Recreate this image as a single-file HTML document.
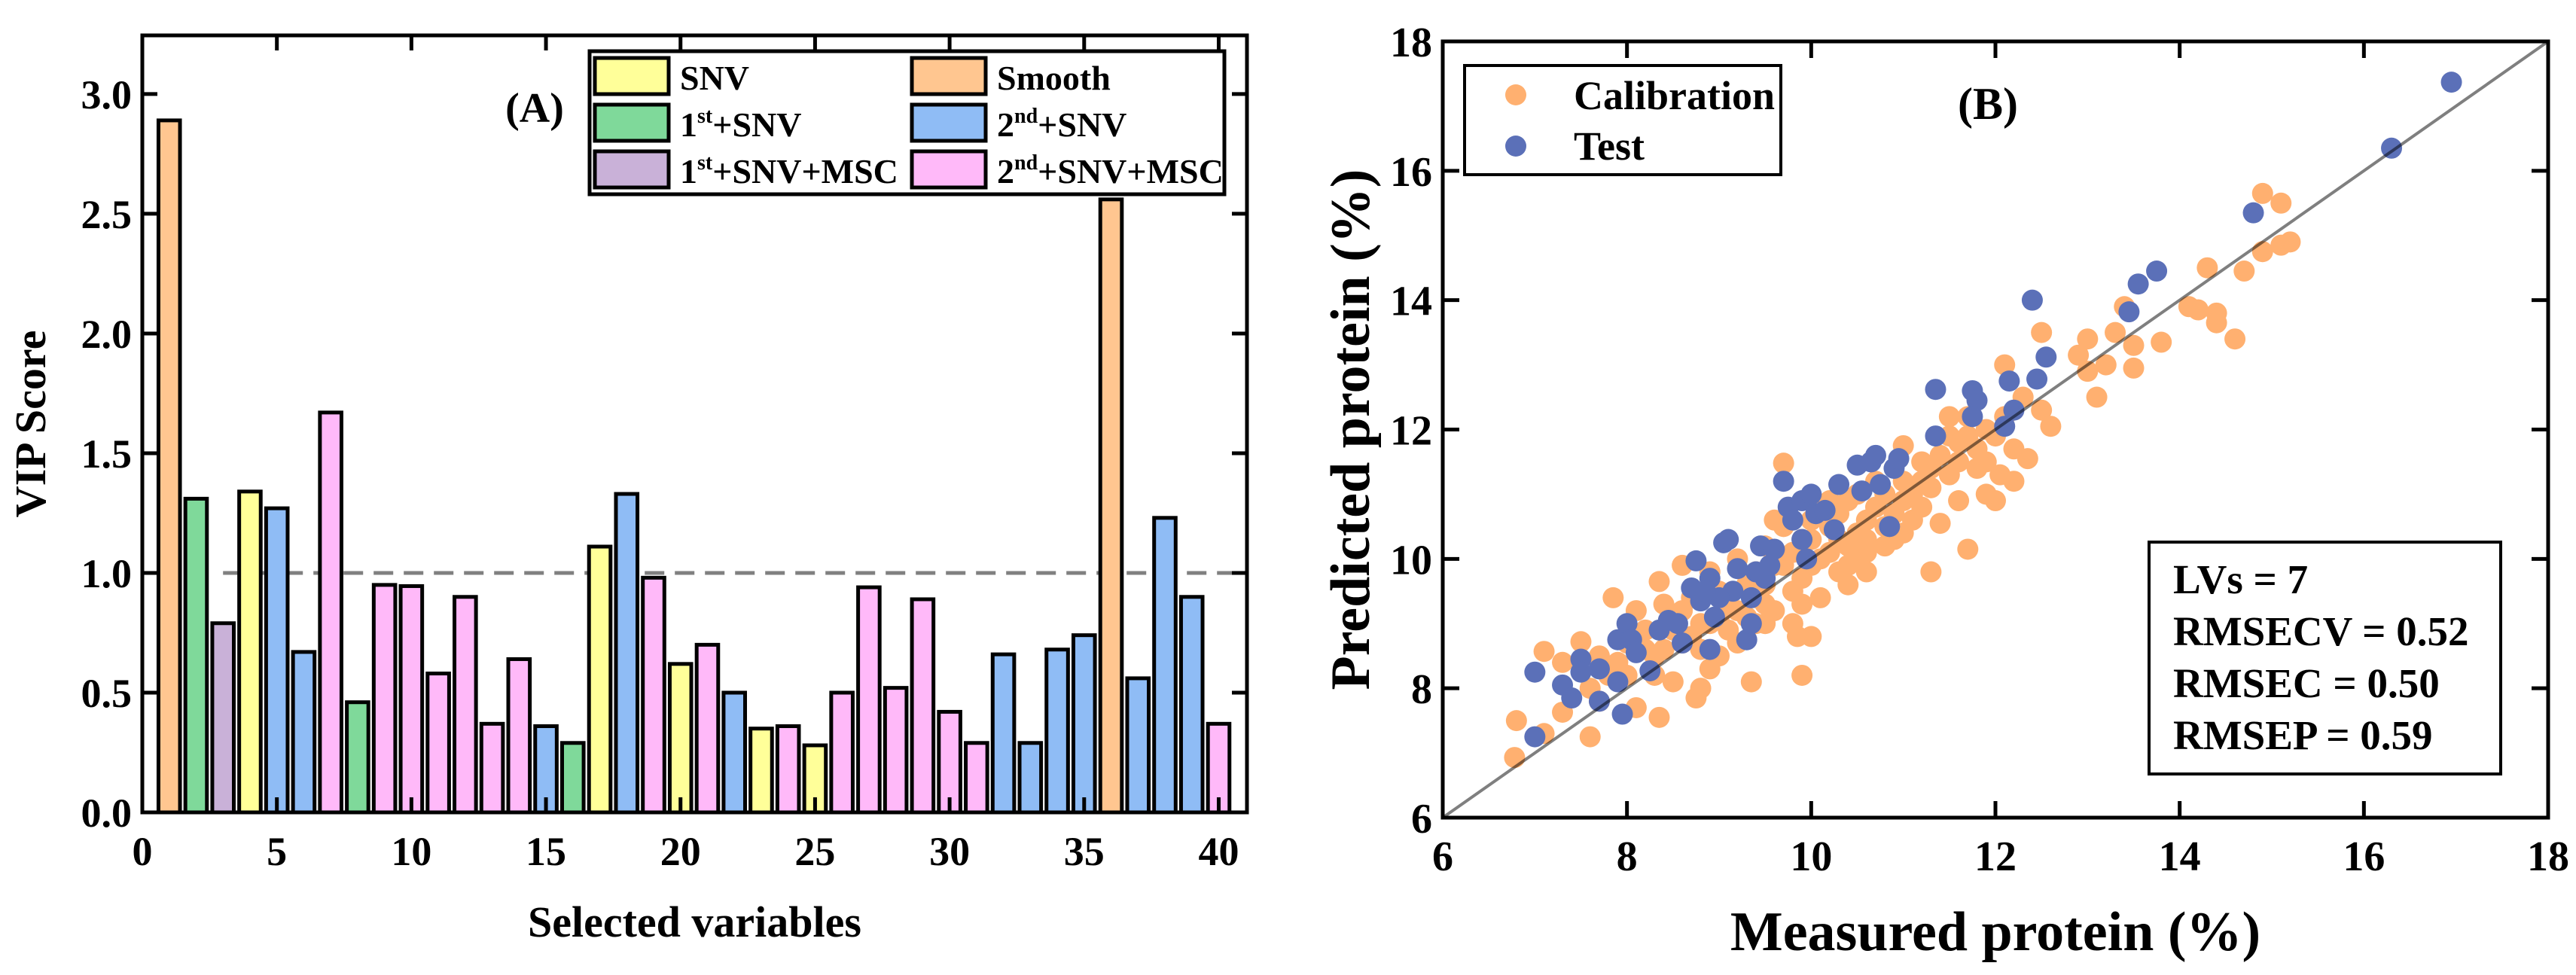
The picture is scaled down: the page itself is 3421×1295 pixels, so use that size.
<!DOCTYPE html>
<html><head><meta charset="utf-8"><style>
html,body{margin:0;padding:0;background:#fff}
svg{display:block}
text{font-family:"Liberation Serif",serif;font-weight:bold;fill:#000}
</style></head><body>
<svg id="svg" width="3421" height="1295" viewBox="0 0 3421 1295" xmlns="http://www.w3.org/2000/svg">
<g id="chartA"></g>
<g id="chartB"></g>
</svg>
<script>
const NS="http://www.w3.org/2000/svg";
// ---- Chart A data ----
const vipValues=[2.89,1.31,0.79,1.34,1.27,0.67,1.67,0.46,0.95,0.945,0.58,0.90,0.37,0.64,0.36,0.29,1.11,1.33,0.98,0.62,0.70,0.50,0.35,0.36,0.28,0.50,0.94,0.52,0.89,0.42,0.29,0.66,0.29,0.68,0.74,2.56,0.56,1.23,0.90,0.37];
const vipGroups=["sm","g1","p1","snv","b2","b2","pk","g1","pk","pk","pk","pk","pk","pk","b2","g1","snv","b2","pk","snv","pk","b2","snv","pk","snv","pk","pk","pk","pk","pk","pk","b2","b2","b2","b2","sm","b2","b2","b2","pk"];
const xTicksA=[0,5,10,15,20,25,30,35,40];
const yTicksA=[0.0,0.5,1.0,1.5,2.0,2.5,3.0];
const threshold=1.0;
// ---- Chart B data ----
const calMeasured=[6.78,6.8,7.1,7.1,7.3,7.3,7.5,7.6,7.6,7.7,7.85,7.9,8.0,8.1,8.1,8.2,8.3,8.35,8.35,8.4,8.5,8.5,8.6,8.7,8.75,8.8,8.8,8.9,8.9,9.0,9.0,9.1,9.2,9.2,9.3,9.35,9.4,9.5,9.5,9.6,9.7,9.7,9.8,9.85,9.9,9.9,10.0,10.0,10.1,10.1,10.2,10.3,10.4,10.4,10.5,10.6,10.6,10.7,10.8,10.9,11.0,11.0,11.1,11.2,11.3,11.3,11.4,11.5,11.6,11.6,11.7,11.8,11.9,12.0,12.05,12.1,12.2,12.3,12.35,12.5,12.5,12.6,12.9,13.0,13.0,13.1,13.2,13.3,13.4,13.5,13.5,13.8,14.1,14.2,14.3,14.4,14.4,14.6,14.7,14.9,14.9,15.1,15.1,15.2,8.6,8.8,9.0,9.1,9.3,9.4,9.5,9.6,9.7,9.8,9.9,10.0,10.1,10.2,10.3,10.3,10.4,10.5,10.5,10.6,10.7,10.8,10.9,11.0,11.1,11.2,11.3,11.4,11.5,11.6,11.7,11.8,11.9,12.0,12.1,8.0,8.2,8.4,7.8,7.7,8.6,9.2,9.6,10.0,10.2,10.8,11.2,11.5,11.7,10.4,9.9,9.4,8.7,8.3,9.8,10.6,11.0,11.9,12.2,8.9,9.5];
const calPredicted=[6.93,7.5,7.3,8.57,7.63,8.4,8.72,7.25,8.0,7.8,9.4,8.4,8.2,7.7,9.2,8.6,8.2,7.55,9.65,9.3,8.9,8.1,9.9,9.4,7.85,8.0,9.0,8.3,9.8,9.1,8.5,9.3,8.7,10.0,9.6,8.1,9.0,10.2,9.3,9.9,11.48,10.5,9.5,8.8,8.2,9.7,10.3,8.8,9.4,10.8,10.1,9.8,9.6,10.9,10.4,10.6,9.8,11.2,10.5,10.3,11.75,10.9,10.6,11.5,9.8,11.1,10.55,12.2,11.8,10.9,10.15,11.4,12.0,10.9,11.3,13.0,11.7,12.5,11.55,13.5,12.3,12.05,13.15,13.4,12.9,12.5,13.0,13.5,13.9,12.95,13.3,13.35,13.9,13.85,14.5,13.8,13.65,13.4,14.45,15.65,14.75,15.5,14.85,14.9,8.7,8.6,9.5,8.9,9.1,9.8,9.6,9.2,9.9,10.1,10.3,9.9,10.0,10.5,10.3,10.7,10.2,10.0,11.0,10.3,10.8,11.0,10.7,11.2,11.0,11.2,11.4,11.6,11.3,11.5,11.9,11.7,11.5,11.9,12.2,8.7,8.9,8.6,8.2,8.5,9.2,9.2,10.6,10.6,10.9,10.2,10.8,11.9,12.2,9.9,9.3,9.4,8.8,8.5,9.0,10.1,10.4,11.0,11.2,9.0,9.0];
const testMeasured=[7.0,7.0,7.3,7.4,7.5,7.5,7.7,7.7,7.9,7.9,8.0,7.95,8.05,8.1,8.25,8.45,8.55,8.6,8.7,8.75,8.8,8.9,8.9,8.95,9.05,9.1,9.15,9.2,9.3,9.35,9.35,9.45,9.5,9.6,9.7,9.75,9.9,9.9,9.95,10.0,10.05,10.15,10.25,10.3,10.5,10.55,10.65,10.7,10.75,10.85,10.9,10.95,11.35,11.35,11.75,11.8,11.75,12.1,12.15,12.2,12.4,12.45,12.55,13.45,13.55,13.75,14.8,16.3,16.95,8.35,9.0,9.4,9.55,8.85,9.8];
const testPredicted=[7.25,8.25,8.05,7.85,8.45,8.25,8.3,7.8,8.1,8.75,9.0,7.6,8.75,8.55,8.27,9.05,9.0,8.7,9.55,9.97,9.35,9.7,8.6,9.1,10.25,10.3,9.5,9.85,8.75,9.4,9.0,10.2,9.7,10.15,11.2,10.8,10.9,10.3,10.0,11.0,10.7,10.75,10.45,11.15,11.45,11.05,11.5,11.6,11.15,10.5,11.4,11.55,12.62,11.9,12.6,12.45,12.2,12.05,12.75,12.3,14.0,12.78,13.12,13.82,14.25,14.45,15.35,16.35,17.37,8.9,9.4,9.8,9.9,9.5,10.6];
const ticksB=[6,8,10,12,14,16,18];

function el(tag,attrs,parent,txt){const e=document.createElementNS(NS,tag);for(const k in attrs)e.setAttribute(k,attrs[k]);if(txt!==undefined)e.textContent=txt;parent.appendChild(e);return e;}

// ---------- Chart A ----------
(function(){
const g=document.getElementById('chartA');
const L=189,R=1656,T=47,B=1079;
const xmin=0,xmax=41.05,ymin=0,ymax=3.245;
const X=v=>L+(v-xmin)/(xmax-xmin)*(R-L);
const Y=v=>B-(v-ymin)/(ymax-ymin)*(B-T);
const colors={snv:"#FFFF99",sm:"#FFC690",g1:"#7FD99A",b2:"#8FBCF5",p1:"#C9B1D8",pk:"#FFB9F9"};
const dl=el('line',{x1:X(3),x2:X(41),y1:Y(threshold),y2:Y(threshold),stroke:"#808080","stroke-width":5,"stroke-dasharray":"26,14"},g);


const bw=(X(0.8)-X(0));
vipValues.forEach((v,i)=>{
 const r=el('rect',{x:X(i+1)-bw/2,y:Y(v),width:bw,height:Y(0)-Y(v),fill:colors[vipGroups[i]],stroke:"#000","stroke-width":5},g);
 
 
});
const fr=el('rect',{x:L,y:T,width:R-L,height:B-T,fill:"none",stroke:"#000","stroke-width":5},g);


xTicksA.forEach(t=>{
 el('line',{x1:X(t),x2:X(t),y1:B,y2:B-20,stroke:"#000","stroke-width":5},g);
 el('line',{x1:X(t),x2:X(t),y1:T,y2:T+20,stroke:"#000","stroke-width":5},g);
 const tx=el('text',{x:X(t),y:B+70,"font-size":54,"text-anchor":"middle"},g,String(t));
 
 
});
yTicksA.forEach(t=>{
 el('line',{x1:L,x2:L+20,y1:Y(t),y2:Y(t),stroke:"#000","stroke-width":5},g);
 el('line',{x1:R,x2:R-20,y1:Y(t),y2:Y(t),stroke:"#000","stroke-width":5},g);
 const tx=el('text',{x:L-14,y:Y(t)+19,"font-size":54,"text-anchor":"end"},g,t.toFixed(1));
 
 
});
const xt=el('text',{x:(L+R)/2,y:1244,"font-size":58,"text-anchor":"middle"},g,"Selected variables");


const yt=el('text',{x:0,y:0,"font-size":58,"text-anchor":"middle",transform:"translate(60,"+((T+B)/2)+") rotate(-90)"},g,"VIP Score");


const pt=el('text',{x:710,y:162,"font-size":56,"text-anchor":"middle"},g,"(A)");


const lg=el('g',{},g);


el('rect',{x:783,y:68,width:843,height:190,fill:"#fff",stroke:"#000","stroke-width":5},lg);
const items=[["snv","SNV",null,0,0],["sm","Smooth",null,1,0],["g1","1","st",0,1],["b2","2","nd",1,1],["p1","1","st",0,2],["pk","2","nd",1,2]];
const tails=["","","+SNV","+SNV","+SNV+MSC","+SNV+MSC"];
items.forEach((it,i)=>{
 const sx=it[3]?1211:790, sy=77+it[4]*62;
 const e=el('g',{},lg);
 
 
 el('rect',{x:sx,y:sy,width:98,height:48,fill:colors[it[0]],stroke:"#000","stroke-width":5},e);
 const t=el('text',{x:sx+113,y:sy+42,"font-size":46},e);
 t.appendChild(document.createTextNode(it[1]));
 if(it[2]){el('tspan',{"font-size":28,dy:-18},t,it[2]);el('tspan',{dy:18},t,tails[i]);}
});
})();

// ---------- Chart B ----------
(function(){
const g=document.getElementById('chartB');
const L=1916,R=3384,T=55,B=1086;
const X=v=>L+(v-6)/12*(R-L);
const Y=v=>B-(v-6)/12*(B-T);
const pts=el('g',{},g);


calMeasured.forEach((m,i)=>{
 const c=el('circle',{cx:X(m),cy:Y(calPredicted[i]),r:14,fill:"#FFB070"},pts);
 
 
});
const tp=el('g',{},g);


testMeasured.forEach((m,i)=>{
 const c=el('circle',{cx:X(m),cy:Y(testPredicted[i]),r:14,fill:"#5B70B8"},tp);
 
 
});
const ln=el('line',{x1:X(6),y1:Y(6),x2:X(18),y2:Y(18),stroke:"#000","stroke-opacity":0.5,"stroke-width":4},g);


const fr=el('rect',{x:L,y:T,width:R-L,height:B-T,fill:"none",stroke:"#000","stroke-width":5},g);


ticksB.forEach(t=>{
 el('line',{x1:X(t),x2:X(t),y1:B,y2:B-22,stroke:"#000","stroke-width":5},g);
 el('line',{x1:X(t),x2:X(t),y1:T,y2:T+22,stroke:"#000","stroke-width":5},g);
 el('line',{x1:L,x2:L+22,y1:Y(t),y2:Y(t),stroke:"#000","stroke-width":5},g);
 el('line',{x1:R,x2:R-22,y1:Y(t),y2:Y(t),stroke:"#000","stroke-width":5},g);
 const a=el('text',{x:X(t),y:B+70,"font-size":56,"text-anchor":"middle"},g,String(t));
 
 
 const b=el('text',{x:L-14,y:Y(t)+20,"font-size":56,"text-anchor":"end"},g,String(t));
 
 
});
const xt=el('text',{x:(L+R)/2,y:1262,"font-size":74,"text-anchor":"middle"},g,"Measured protein (%)");


const yt=el('text',{x:0,y:0,"font-size":74,"text-anchor":"middle",transform:"translate(1818,"+((T+B)/2)+") rotate(-90)"},g,"Predicted protein (%)");


const pt=el('text',{x:2640,y:158,"font-size":60,"text-anchor":"middle"},g,"(B)");


const lg=el('g',{},g);


el('rect',{x:1945,y:87,width:420,height:145,fill:"#fff",stroke:"#000","stroke-width":4},lg);
el('circle',{cx:2013,cy:126,r:14,fill:"#FFB070"},lg);
el('circle',{cx:2013,cy:194,r:14,fill:"#5B70B8"},lg);
el('text',{x:2090,y:145,"font-size":54},lg,"Calibration");
el('text',{x:2090,y:212,"font-size":54},lg,"Test");
const sb=el('g',{},g);


el('rect',{x:2854,y:720,width:467,height:308,fill:"#fff",stroke:"#000","stroke-width":4},sb);
["LVs = 7","RMSECV = 0.52","RMSEC = 0.50","RMSEP = 0.59"].forEach((s,i)=>{
 el('text',{x:2886,y:788+i*69,"font-size":55},sb,s);
});
})();
</script>
</body></html>
